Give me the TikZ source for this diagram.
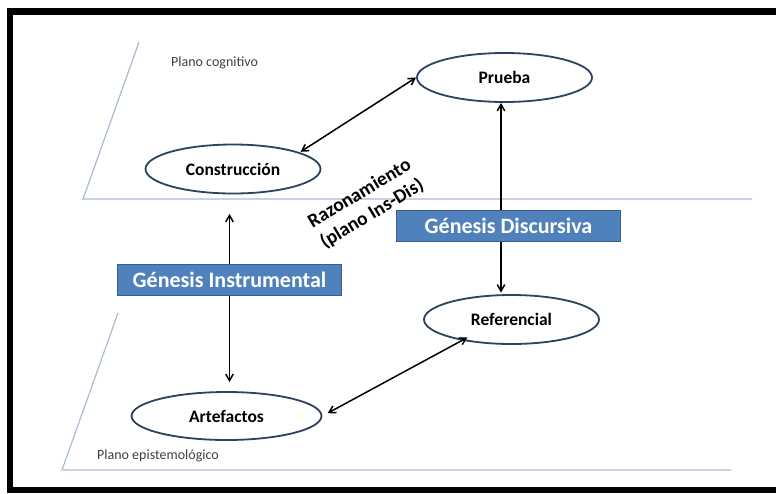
\documentclass[tikz,border=0pt]{standalone}
\usepackage{fontspec}
\setmainfont{Carlito}
\usetikzlibrary{arrows.meta,shapes.geometric}
\definecolor{planeblue}{RGB}{168,188,212}
\definecolor{boxblue}{RGB}{79,129,189}
\definecolor{boxedge}{RGB}{56,93,138}
\definecolor{ellipseedge}{RGB}{44,66,96}
\begin{document}
\begin{tikzpicture}[x=1pt,y=-1pt,
    nodo/.style={ellipse, draw=ellipseedge, fill=white, line width=1.8pt,
        minimum width=175pt, minimum height=49pt, inner sep=0pt,
        font=\fontsize{17.5}{20}\selectfont\bfseries},
    genesis/.style={rectangle, fill=boxblue, draw=boxedge, line width=1.2pt,
        minimum width=224pt, minimum height=31pt, inner sep=0pt, text=white,
        font=\fontsize{22}{24}\selectfont\bfseries},
    plano/.style={planeblue, line width=1.2pt},
    etiqueta/.style={text=black!75, inner sep=0pt, font=\fontsize{14}{16}\selectfont},
    flecha/.style={line width=1.5pt, -{Straight Barb[length=6.5pt,width=7.5pt]}},
    dflecha/.style={line width=1.5pt,
        {Straight Barb[length=6.5pt,width=7.5pt]}-{Straight Barb[length=6.5pt,width=7.5pt]}}]
    \useasboundingbox (0,0) rectangle (776,493);

    % 枠
    \draw[line width=6.5pt, line join=miter] (776,11.5) -- (10,11.5) -- (10,490) -- (776,490);

    % 平面
    \draw[plano] (139,42) -- (83,199) -- (752,199);
    \draw[plano] (118,313) -- (62,470) -- (731,470);
    \node[etiqueta, anchor=west] (pcog) at (171,63) {Plano cognitivo};
    \node[etiqueta, anchor=west] (pepi) at (97,456) {Plano epistemológico};

    % ノード
    \node[nodo] (cons) at (233,169) {Construcción};
    \node[nodo] (prueba) at (504.5,77.5) {Prueba};
    \node[nodo] (ref) at (511.5,319.5) {Referencial};
    \node[nodo, minimum width=190pt, minimum height=48pt] (art) at (226.5,416) {Artefactos};
    \node[genesis] (ginst) at (229.5,280) {Génesis Instrumental};
    \node[genesis] (gdisc) at (508.5,226) {Génesis Discursiva};
    \node[rotate=31, align=center, inner sep=0pt,
        font=\fontsize{19.5}{24}\selectfont\bfseries] (razon) at (366,204)
        {Razonamiento\\(plano Ins-Dis)};

    % 矢印
    \coordinate (ejeD) at ([xshift=-7.5pt]gdisc.center);
    \draw[flecha, shorten >=19.5pt] (ginst.north) -- (ginst.north |- cons.south);
    \draw[flecha, shorten >=9pt] (ginst.south) -- (ginst.south |- art.north);
    \draw[flecha] (ejeD |- gdisc.north) -- (ejeD |- prueba.south);
    \draw[flecha, shorten >=1.5pt] (ejeD |- gdisc.south) -- (ejeD |- ref.north);
    \draw[dflecha, shorten <=1pt] (cons.14) -- (prueba.west);
    \draw[dflecha, shorten <=6pt] (art.east) -- ([xshift=18.5pt]ref.south west);
\end{tikzpicture}
\end{document}
